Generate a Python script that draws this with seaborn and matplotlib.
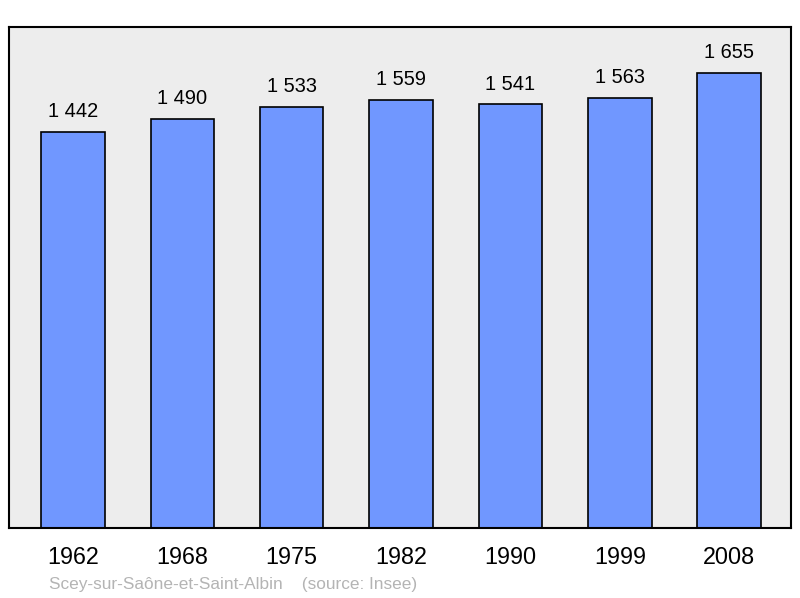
import pandas as pd
import matplotlib.pyplot as plt
import seaborn as sns

years = ["1962", "1968", "1975", "1982", "1990", "1999", "2008"]
population = [1442, 1490, 1533, 1559, 1541, 1563, 1655]
labels = ["1 442", "1 490", "1 533", "1 559", "1 541", "1 563", "1 655"]

df = pd.DataFrame({"year": years, "pop": population})

sns.set_style("white")
plt.rcParams['font.family'] = ['Liberation Sans', 'DejaVu Sans']

fig = plt.figure(figsize=(8, 5.98), dpi=100)
ax = fig.add_axes([9 / 800, 1 - 528 / 598, 782 / 800, 501 / 598])
ax.set_facecolor("#ededed")

sns.barplot(data=df, x="year", y="pop", color="#7097ff", saturation=1,
            width=0.58, edgecolor="black", linewidth=1.2, ax=ax)

for i, (v, t) in enumerate(zip(population, labels)):
    ax.text(i, v + 40, t, ha="center", va="bottom", fontsize=14.4, color="black")

ax.set_xlim(-0.585, 6.565)
ax.set_ylim(0, 1823)
ax.set_yticks([])
ax.set_xlabel("")
ax.set_ylabel("")
ax.tick_params(axis="x", length=0, labelsize=16.8, labelcolor="black", pad=13)
for s in ax.spines.values():
    s.set_visible(True)
    s.set_color("black")
    s.set_linewidth(1.5)

fig.text(49 / 800, 1 - 584 / 598, "Scey-sur-Saône-et-Saint-Albin    (source: Insee)",
         fontsize=12.4, color="#b4b4b4", va="center")

fig.savefig("out.png", dpi=100)
